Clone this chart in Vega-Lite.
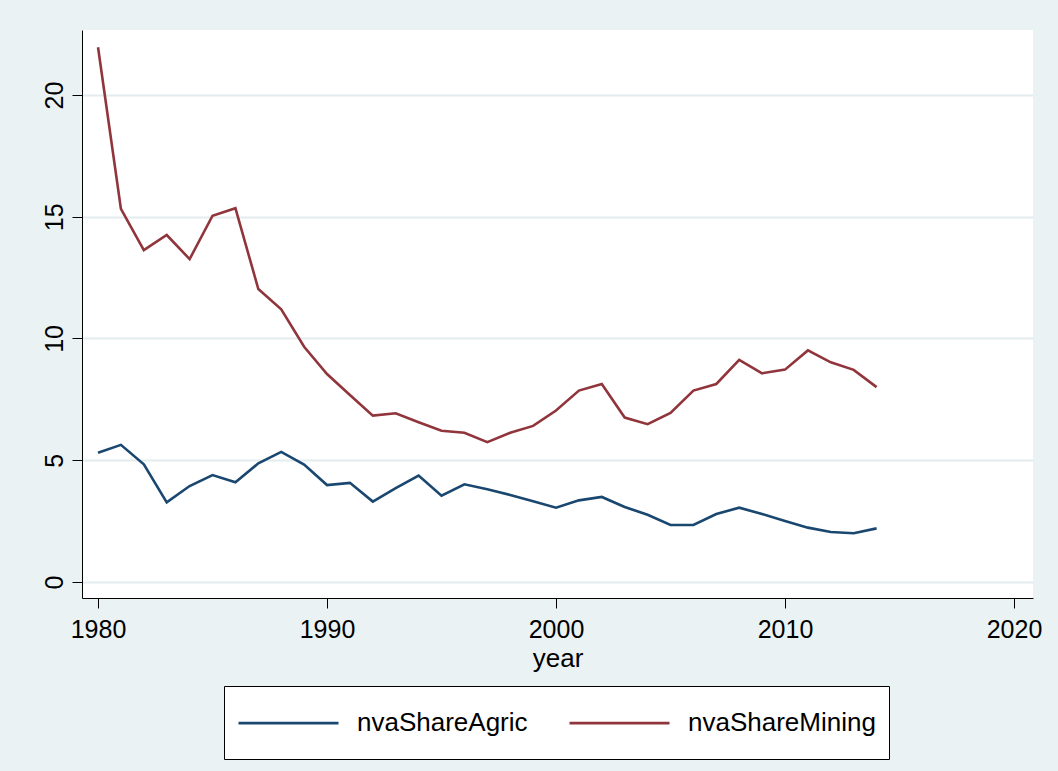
{
  "$schema": "https://vega.github.io/schema/vega-lite/v6.json",
  "autosize": {"type": "none"},
  "width": 951,
  "height": 568,
  "padding": {"left": 82, "top": 30, "right": 25, "bottom": 173},
  "background": "#EAF2F3",
  "view": {"stroke": null, "fill": "white"},
  "config": {
    "font": "Liberation Sans",
    "axis": {"labelFont": "Liberation Sans", "titleFont": "Liberation Sans", "labelColor": "black", "titleColor": "black", "titleFontWeight": "normal", "domainColor": "black", "tickColor": "black", "domainWidth": 1, "tickWidth": 1, "tickSize": 10}
  },
  "data": {
    "values": [
      {"year": 1980, "series": "nvaShareAgric", "value": 5.31},
      {"year": 1981, "series": "nvaShareAgric", "value": 5.63},
      {"year": 1982, "series": "nvaShareAgric", "value": 4.83},
      {"year": 1983, "series": "nvaShareAgric", "value": 3.27},
      {"year": 1984, "series": "nvaShareAgric", "value": 3.94},
      {"year": 1985, "series": "nvaShareAgric", "value": 4.39},
      {"year": 1986, "series": "nvaShareAgric", "value": 4.09},
      {"year": 1987, "series": "nvaShareAgric", "value": 4.87},
      {"year": 1988, "series": "nvaShareAgric", "value": 5.34},
      {"year": 1989, "series": "nvaShareAgric", "value": 4.82},
      {"year": 1990, "series": "nvaShareAgric", "value": 3.98},
      {"year": 1991, "series": "nvaShareAgric", "value": 4.07},
      {"year": 1992, "series": "nvaShareAgric", "value": 3.30},
      {"year": 1993, "series": "nvaShareAgric", "value": 3.85},
      {"year": 1994, "series": "nvaShareAgric", "value": 4.37},
      {"year": 1995, "series": "nvaShareAgric", "value": 3.54},
      {"year": 1996, "series": "nvaShareAgric", "value": 4.01},
      {"year": 1997, "series": "nvaShareAgric", "value": 3.81},
      {"year": 1998, "series": "nvaShareAgric", "value": 3.57},
      {"year": 1999, "series": "nvaShareAgric", "value": 3.31},
      {"year": 2000, "series": "nvaShareAgric", "value": 3.05},
      {"year": 2001, "series": "nvaShareAgric", "value": 3.35},
      {"year": 2002, "series": "nvaShareAgric", "value": 3.49},
      {"year": 2003, "series": "nvaShareAgric", "value": 3.08},
      {"year": 2004, "series": "nvaShareAgric", "value": 2.76},
      {"year": 2005, "series": "nvaShareAgric", "value": 2.34},
      {"year": 2006, "series": "nvaShareAgric", "value": 2.34},
      {"year": 2007, "series": "nvaShareAgric", "value": 2.79},
      {"year": 2008, "series": "nvaShareAgric", "value": 3.05},
      {"year": 2009, "series": "nvaShareAgric", "value": 2.79},
      {"year": 2010, "series": "nvaShareAgric", "value": 2.50},
      {"year": 2011, "series": "nvaShareAgric", "value": 2.23},
      {"year": 2012, "series": "nvaShareAgric", "value": 2.05},
      {"year": 2013, "series": "nvaShareAgric", "value": 2.00},
      {"year": 2014, "series": "nvaShareAgric", "value": 2.20},
      {"year": 1980, "series": "nvaShareMining", "value": 21.96},
      {"year": 1981, "series": "nvaShareMining", "value": 15.32},
      {"year": 1982, "series": "nvaShareMining", "value": 13.63},
      {"year": 1983, "series": "nvaShareMining", "value": 14.25},
      {"year": 1984, "series": "nvaShareMining", "value": 13.26},
      {"year": 1985, "series": "nvaShareMining", "value": 15.04},
      {"year": 1986, "series": "nvaShareMining", "value": 15.35},
      {"year": 1987, "series": "nvaShareMining", "value": 12.03},
      {"year": 1988, "series": "nvaShareMining", "value": 11.20},
      {"year": 1989, "series": "nvaShareMining", "value": 9.66},
      {"year": 1990, "series": "nvaShareMining", "value": 8.54},
      {"year": 1991, "series": "nvaShareMining", "value": 7.68},
      {"year": 1992, "series": "nvaShareMining", "value": 6.83},
      {"year": 1993, "series": "nvaShareMining", "value": 6.93},
      {"year": 1994, "series": "nvaShareMining", "value": 6.56},
      {"year": 1995, "series": "nvaShareMining", "value": 6.21},
      {"year": 1996, "series": "nvaShareMining", "value": 6.13},
      {"year": 1997, "series": "nvaShareMining", "value": 5.74},
      {"year": 1998, "series": "nvaShareMining", "value": 6.13},
      {"year": 1999, "series": "nvaShareMining", "value": 6.41},
      {"year": 2000, "series": "nvaShareMining", "value": 7.04},
      {"year": 2001, "series": "nvaShareMining", "value": 7.86},
      {"year": 2002, "series": "nvaShareMining", "value": 8.13},
      {"year": 2003, "series": "nvaShareMining", "value": 6.75},
      {"year": 2004, "series": "nvaShareMining", "value": 6.48},
      {"year": 2005, "series": "nvaShareMining", "value": 6.94},
      {"year": 2006, "series": "nvaShareMining", "value": 7.86},
      {"year": 2007, "series": "nvaShareMining", "value": 8.13},
      {"year": 2008, "series": "nvaShareMining", "value": 9.12},
      {"year": 2009, "series": "nvaShareMining", "value": 8.57},
      {"year": 2010, "series": "nvaShareMining", "value": 8.72},
      {"year": 2011, "series": "nvaShareMining", "value": 9.51},
      {"year": 2012, "series": "nvaShareMining", "value": 9.02},
      {"year": 2013, "series": "nvaShareMining", "value": 8.71},
      {"year": 2014, "series": "nvaShareMining", "value": 8.00}
    ]
  },
  "mark": {"type": "line", "strokeWidth": 2.6, "strokeJoin": "miter"},
  "encoding": {
    "x": {
      "field": "year", "type": "quantitative",
      "scale": {"domain": [1979.3, 2020.83], "nice": false, "zero": false},
      "axis": {"values": [1980, 1990, 2000, 2010, 2020], "format": "d", "grid": false, "labelFontSize": 25, "labelPadding": 9, "title": "year", "titleFontSize": 26, "titlePadding": 3, "labelFlush": false}
    },
    "y": {
      "field": "value", "type": "quantitative",
      "scale": {"domain": [-0.66, 22.67], "nice": false, "zero": false},
      "axis": {"values": [0, 5, 10, 15, 20], "title": null, "grid": true, "gridColor": "#E3ECEE", "gridWidth": 2, "labelAngle": -90, "labelAlign": "center", "labelBaseline": "alphabetic", "labelFontSize": 25, "labelPadding": 10, "labelFlush": false}
    },
    "color": {
      "field": "series", "type": "nominal",
      "scale": {"domain": ["nvaShareAgric", "nvaShareMining"], "range": ["#1A476F", "#90353B"]},
      "legend": {
        "orient": "none", "legendX": 142, "legendY": 656, "direction": "horizontal", "title": null,
        "symbolType": "M-1,0H3.444M-1,0.78H-1", "symbolSize": 2025, "symbolStrokeWidth": 2.6, "labelOffset": 72,
        "labelFont": "Liberation Sans", "labelFontSize": 26, "labelColor": "black", "labelLimit": 400,
        "columnPadding": 36, "padding": 13, "strokeColor": "black", "fillColor": "white", "cornerRadius": 0
      }
    }
  }
}
